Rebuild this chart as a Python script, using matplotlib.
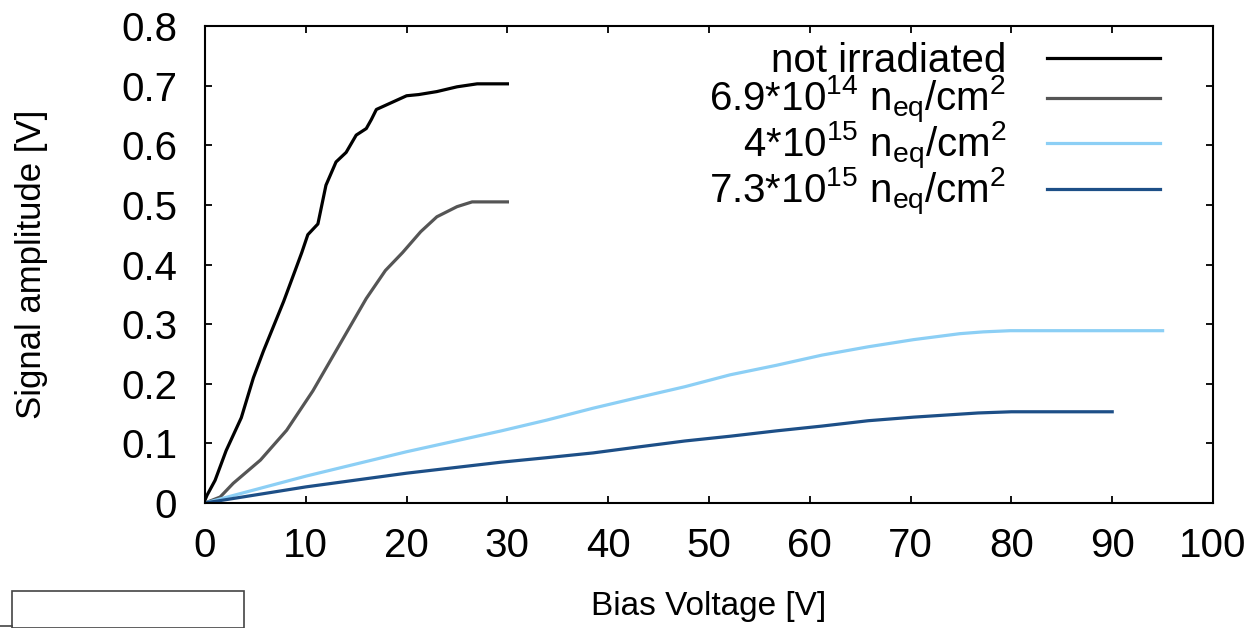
import matplotlib
matplotlib.use("Agg")
import matplotlib.pyplot as plt
from matplotlib.patches import Rectangle
from matplotlib.lines import Line2D

plt.rcParams["font.family"] = ["Liberation Sans", "DejaVu Sans"]
plt.rcParams["mathtext.fontset"] = "custom"
plt.rcParams["mathtext.rm"] = "Liberation Sans"
plt.rcParams["mathtext.it"] = "Liberation Sans:italic"

# not irradiated
v_none = [0, 0.2, 1, 2.1, 3.6, 4.8, 5.8, 7.8, 8.9, 9.6, 10.2, 11.2, 12, 13, 14,
          15, 16, 16.5, 17, 20, 21.2, 23, 25, 27, 30]
a_none = [0.005, 0.013, 0.038, 0.088, 0.143, 0.21, 0.255, 0.338, 0.388, 0.42,
          0.45, 0.468, 0.533, 0.572, 0.588, 0.617, 0.628, 0.643, 0.66, 0.683,
          0.685, 0.69, 0.698, 0.703, 0.703]

# 6.9e14 neq/cm2
v_69e14 = [0, 1.5, 2.8, 5.5, 8.1, 10.7, 13.4, 16, 17.9, 19.6, 21.4, 23, 25,
           26.5, 30]
a_69e14 = [0.0, 0.01, 0.033, 0.072, 0.122, 0.188, 0.267, 0.343, 0.39, 0.42,
           0.455, 0.48, 0.497, 0.505, 0.505]

# 4e15 neq/cm2
v_4e15 = [0, 10, 20, 29.4, 33.9, 38.5, 43, 47.6, 52.1, 56.7, 61.2, 65.8, 70.3,
          74.9, 77.2, 79.9, 95]
a_4e15 = [0.0, 0.045, 0.086, 0.121, 0.139, 0.159, 0.177, 0.195, 0.215, 0.231,
          0.248, 0.262, 0.274, 0.284, 0.287, 0.289, 0.289]

# 7.3e15 neq/cm2
v_73e15 = [0, 10, 20, 29.4, 33.9, 38.5, 43, 47.6, 52.1, 56.7, 61.2, 65.8, 70.3,
           76.7, 80, 90]
a_73e15 = [0.0, 0.027, 0.05, 0.0685, 0.076, 0.084, 0.094, 0.104, 0.112, 0.121,
           0.129, 0.138, 0.144, 0.151, 0.153, 0.153]

labels = [
    "not irradiated",
    r"6.9*10$^{14}$ n$_{\mathregular{eq}}$/cm$^{2}$",
    r"4*10$^{15}$ n$_{\mathregular{eq}}$/cm$^{2}$",
    r"7.3*10$^{15}$ n$_{\mathregular{eq}}$/cm$^{2}$",
]
colors = ["#000000", "#555555", "#8ccff5", "#1d4f87"]

x_ticks = list(range(0, 101, 10))
y_ticks = [0, 0.1, 0.2, 0.3, 0.4, 0.5, 0.6, 0.7, 0.8]
y_ticklabels = ["0", "0.1", "0.2", "0.3", "0.4", "0.5", "0.6", "0.7", "0.8"]

fig = plt.figure(figsize=(12.59, 6.28), dpi=100)
W, H = 1259, 628
ax = fig.add_axes([205 / W, 1 - 503 / H, (1213 - 205) / W, (503 - 26) / H])

series = [(v_none, a_none), (v_69e14, a_69e14), (v_4e15, a_4e15), (v_73e15, a_73e15)]
for (v, a), c, lab in zip(series, colors, labels):
    ax.plot(v, a, color=c, lw=2.3, label=lab, solid_joinstyle="round")

ax.set_xlim(0, 100)
ax.set_ylim(0, 0.8)
ax.set_xticks(x_ticks)
ax.set_yticks(y_ticks)
ax.set_yticklabels(y_ticklabels)
ax.tick_params(direction="in", length=5, width=1.3, top=True, right=True,
               labelsize=29)
ax.tick_params(axis="x", pad=17)
ax.tick_params(axis="y", pad=20)
for s in ax.spines.values():
    s.set_linewidth(1.5)

ax.set_xlabel("Bias Voltage [V]", fontsize=24, va="center")
ax.set_ylabel("Signal amplitude [V]", fontsize=25, va="center")
ax.xaxis.set_label_coords(0.5, -0.216)
ax.yaxis.set_label_coords(-0.1726, 0.5)

leg = ax.legend(loc="upper right", bbox_to_anchor=(0.975, 1.025), frameon=False,
                markerfirst=False, fontsize=29, handlelength=2.8,
                handletextpad=1.0, labelspacing=-0.15, borderpad=0.2)

# stray box at the bottom-left corner of the source image
fig.add_artist(Rectangle((12 / W, 0), (244 - 12) / W, (628 - 591) / H,
                         transform=fig.transFigure, fill=False,
                         edgecolor="#444444", lw=1.2))
fig.add_artist(Line2D([0, 12 / W], [2 / H, 2 / H], transform=fig.transFigure,
                      color="#444444", lw=1.2))

fig.savefig("out.png", dpi=100)
